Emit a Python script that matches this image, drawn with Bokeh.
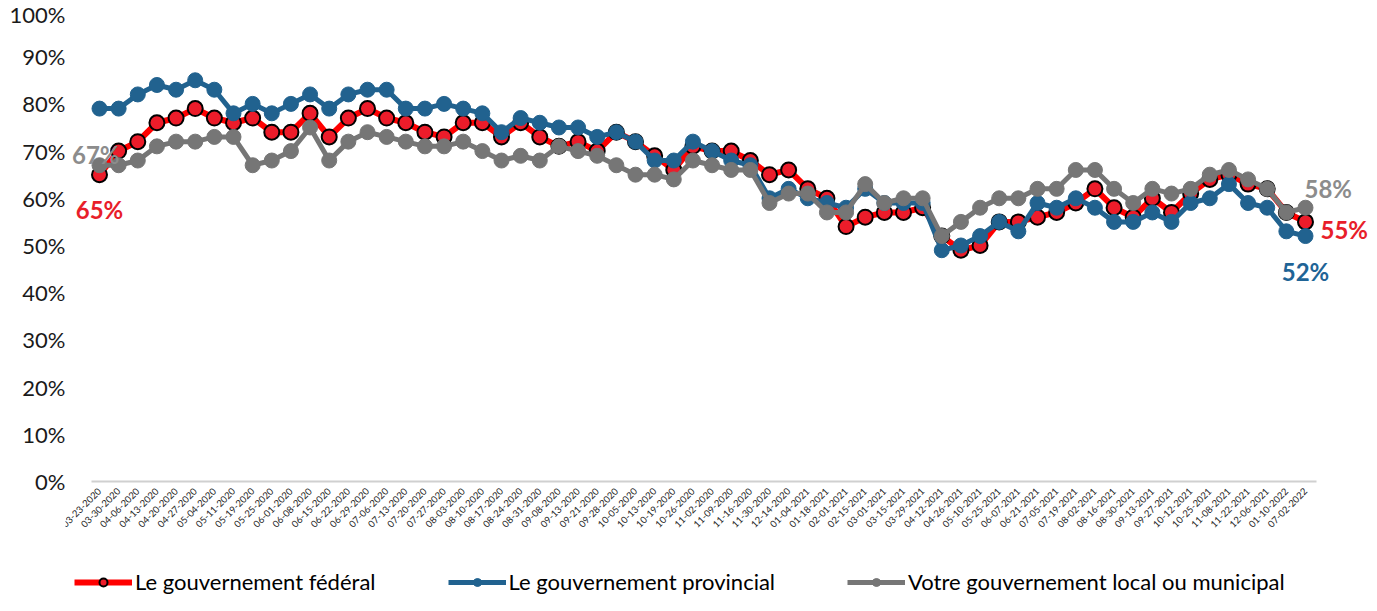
import math
from bokeh.plotting import figure
from bokeh.models import (ColumnDataSource, FixedTicker, Legend, LegendItem, Label, Range1d)
from bokeh.embed import file_html
from bokeh.resources import INLINE

dates = ["03-23-2020", "03-30-2020", "04-06-2020", "04-13-2020", "04-20-2020", "04-27-2020",
         "05-04-2020", "05-11-2020", "05-19-2020", "05-25-2020", "06-01-2020", "06-08-2020",
         "06-15-2020", "06-22-2020", "06-29-2020", "07-06-2020", "07-13-2020", "07-20-2020",
         "07-27-2020", "08-03-2020", "08-10-2020", "08-17-2020", "08-24-2020", "08-31-2020",
         "09-08-2020", "09-13-2020", "09-21-2020", "09-28-2020", "10-05-2020", "10-13-2020",
         "10-19-2020", "10-26-2020", "11-02-2020", "11-09-2020", "11-16-2020", "11-30-2020",
         "12-14-2020", "01-04-2021", "01-18-2021", "02-01-2021", "02-15-2021", "03-01-2021",
         "03-15-2021", "03-29-2021", "04-12-2021", "04-26-2021", "05-10-2021", "05-25-2021",
         "06-07-2021", "06-21-2021", "07-05-2021", "07-19-2021", "08-02-2021", "08-16-2021",
         "08-30-2021", "09-13-2021", "09-27-2021", "10-12-2021", "10-25-2021", "11-08-2021",
         "11-22-2021", "12-06-2021", "01-10-2022", "07-02-2022"]

federal = [65, 70, 72, 76, 77, 79, 77, 76, 77, 74, 74, 78, 73, 77, 79, 77, 76,
           74, 73, 76, 76, 73, 76, 73, 71, 72, 70, 74, 72, 69, 66, 71, 70, 70, 68, 65, 66,
           62, 60, 54, 56, 57, 57, 58, 52, 49, 50, 55, 55, 56, 57,
           59, 62, 58, 56, 60, 57, 61, 64, 65, 63, 62, 57, 55]

provincial = [79, 79, 82, 84, 83, 85, 83, 78, 80, 78, 80, 82, 79, 82, 83, 83, 79,
              79, 80, 79, 78, 74, 77, 76, 75, 75, 73, 74, 72, 68, 68, 72, 70, 68, 67, 60, 62,
              60, 59, 58, 62, 59, 59, 59, 49, 50, 52, 55, 53, 59, 58,
              60, 58, 55, 55, 57, 55, 59, 60, 63, 59, 58, 53, 52]

local = [67, 67, 68, 71, 72, 72, 73, 73, 67, 68, 70, 75, 68, 72, 74, 73, 72,
         71, 71, 72, 70, 68, 69, 68, 71, 70, 69, 67, 65, 65, 64, 68, 67, 66, 66, 59, 61,
         61, 57, 57, 63, 59, 60, 60, 52, 55, 58, 60, 60, 62, 62,
         66, 66, 62, 59, 62, 61, 62, 65, 66, 64, 62, 57, 58]

series_names = ["Le gouvernement fédéral", "Le gouvernement provincial",
                "Votre gouvernement local ou municipal"]

yticks = list(range(0, 101, 10))

idx = list(range(len(dates)))
src = ColumnDataSource(dict(x=idx, fed=federal, prov=provincial, loc=local))

FONT = "Lato"
RED_LINE = "#FF0000"
RED_FILL = "#EC1C2A"
BLUE = "#21628F"
GREY = "#767676"

# frame extends past the axes so that end labels and legend are not clipped
p = figure(width=1372, height=595, output_backend="svg", toolbar_location=None,
           x_range=Range1d(-1.776, 66.50), y_range=Range1d(-24.15, 101.9),
           min_border_left=65, min_border_right=0, min_border_top=0, min_border_bottom=0)
p.outline_line_color = None
p.grid.grid_line_color = None
p.background_fill_color = "white"
p.border_fill_color = "white"

r_fl = p.line("x", "fed", source=src, line_color=RED_LINE, line_width=6, line_join="round")
r_fs = p.scatter("x", "fed", source=src, size=15, fill_color=RED_FILL, line_color="black", line_width=2)
r_pl = p.line("x", "prov", source=src, line_color=BLUE, line_width=5, line_join="round")
r_ps = p.scatter("x", "prov", source=src, size=15, fill_color=BLUE, line_color=BLUE, line_width=1)
r_ll = p.line("x", "loc", source=src, line_color=GREY, line_width=5, line_join="round")
r_ls = p.scatter("x", "loc", source=src, size=15, fill_color=GREY, line_color=GREY, line_width=1)

xa = p.xaxis[0]
xa.fixed_location = 0
xa.bounds = (-0.42, len(dates) - 0.43)
xa.ticker = FixedTicker(ticks=idx)
xa.major_label_overrides = {i: d for i, d in enumerate(dates)}
xa.major_label_orientation = math.pi / 4
xa.major_label_text_font = FONT
xa.major_label_text_font_size = "9.5px"
xa.major_label_text_color = "#262626"
xa.axis_line_color = "#D0D0D0"
xa.axis_line_width = 2
xa.major_tick_line_color = None
xa.minor_tick_line_color = None
xa.major_tick_out = 0
xa.major_tick_in = 0
xa.major_label_standoff = 8

ya = p.yaxis[0]
ya.bounds = (0, 100)
ya.ticker = FixedTicker(ticks=yticks)
ya.major_label_overrides = {v: f"{v}%" for v in yticks}
ya.axis_line_color = None
ya.major_tick_line_color = None
ya.minor_tick_line_color = None
ya.major_tick_out = 0
ya.major_tick_in = 0
ya.major_label_text_font = FONT
ya.major_label_text_font_size = "22px"
ya.major_label_text_color = "#1a1a1a"
ya.major_label_standoff = 0

last = len(dates) - 1
lab_style = dict(text_font=FONT, text_font_style="bold", text_font_size="24px",
                 text_baseline="middle")
p.add_layout(Label(x=0, y=local[0], text=f"{local[0]}%", text_color="#8C8C8C",
                   text_align="right", x_offset=20, y_offset=11, **lab_style))
p.add_layout(Label(x=0, y=federal[0], text=f"{federal[0]}%", text_color="#E81E2A",
                   text_align="center", x_offset=0, y_offset=-35, **lab_style))
p.add_layout(Label(x=last, y=local[-1], text=f"{local[-1]}%", text_color="#8C8C8C",
                   text_align="left", x_offset=-1, y_offset=19, **lab_style))
p.add_layout(Label(x=last, y=federal[-1], text=f"{federal[-1]}%", text_color="#E81E2A",
                   text_align="left", x_offset=15, y_offset=-8, **lab_style))
p.add_layout(Label(x=last, y=provincial[-1], text=f"{provincial[-1]}%", text_color="#1F6496",
                   text_align="center", x_offset=0, y_offset=-35, **lab_style))

legend = Legend(items=[LegendItem(label=series_names[0], renderers=[r_fl, r_fs]),
                       LegendItem(label=series_names[1], renderers=[r_pl, r_ps]),
                       LegendItem(label=series_names[2], renderers=[r_ll, r_ls])],
                orientation="horizontal", location=(9, 0))
legend.label_text_font = FONT
legend.label_text_font_size = "22px"
legend.label_text_color = "#000000"
legend.glyph_width = 58
legend.glyph_height = 20
legend.label_standoff = 3
legend.spacing = 72
legend.padding = 0
legend.margin = 0
legend.border_line_color = None
legend.background_fill_alpha = 0
legend.label_height = 20
p.add_layout(legend, "center")

with open("out.html", "w") as f:
    f.write(file_html(p, INLINE))
